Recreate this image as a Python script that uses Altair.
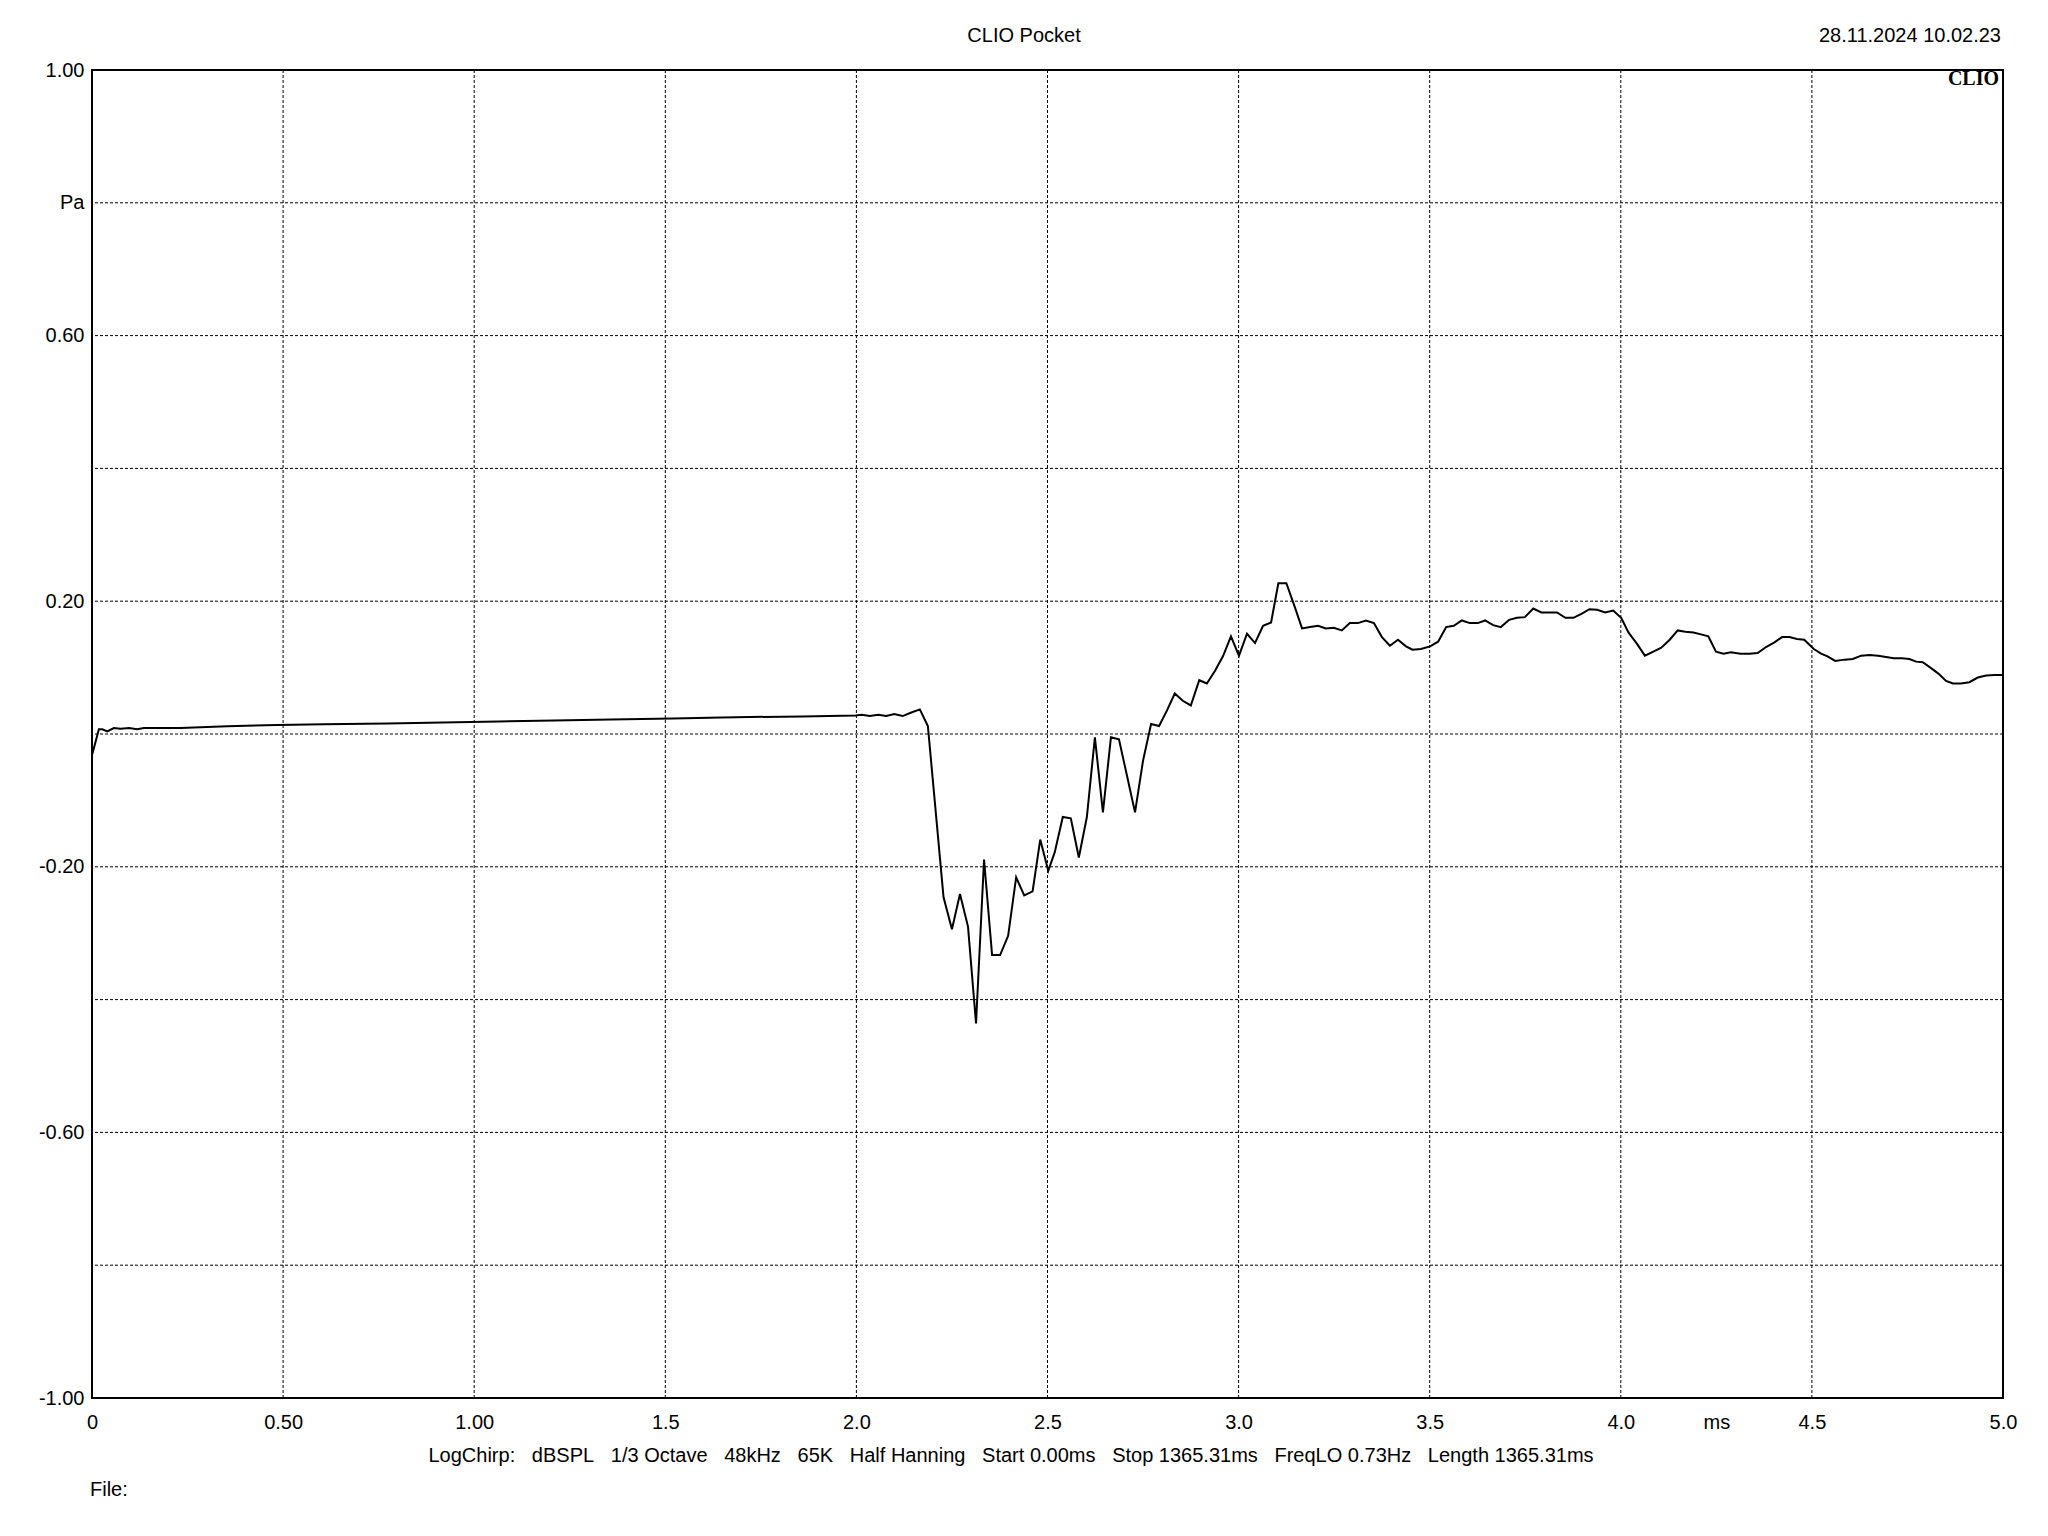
import altair as alt
import pandas as pd

# ---- data (time in ms, pressure in Pa) ----
time_ms = [
    0.000, 0.018, 0.027, 0.040, 0.057, 0.075, 0.097, 0.118, 0.136, 0.232, 0.354, 0.485,
    0.606, 0.773, 0.918, 1.064, 1.210, 1.357, 1.520, 1.647, 1.857, 1.998,
    2.014, 2.035, 2.057, 2.078, 2.099, 2.121, 2.142, 2.166, 2.187, 2.208, 2.228, 2.250,
    2.271, 2.292, 2.313, 2.334, 2.355, 2.376, 2.397, 2.418, 2.439, 2.461, 2.481, 2.502,
    2.519, 2.540, 2.561, 2.582, 2.603, 2.624, 2.645, 2.666, 2.687, 2.708, 2.729, 2.750,
    2.771, 2.792, 2.813, 2.833, 2.854, 2.875, 2.897, 2.917, 2.938, 2.959, 2.980, 3.001,
    3.022, 3.043, 3.064, 3.085, 3.104, 3.125, 3.146, 3.166, 3.187, 3.208, 3.228, 3.249,
    3.270, 3.291, 3.312, 3.333, 3.354, 3.375, 3.396, 3.417, 3.438, 3.455, 3.477, 3.501,
    3.522, 3.543, 3.563, 3.584, 3.605, 3.626, 3.645, 3.666, 3.686, 3.708, 3.728, 3.749,
    3.771, 3.792, 3.813, 3.833, 3.855, 3.876, 3.897, 3.918, 3.938, 3.959, 3.980, 4.001,
    4.020, 4.042, 4.063, 4.085, 4.106, 4.128, 4.149, 4.169, 4.190, 4.210, 4.229, 4.249,
    4.269, 4.288, 4.313, 4.336, 4.358, 4.380, 4.402, 4.422, 4.441, 4.461, 4.480, 4.505,
    4.524, 4.541, 4.561, 4.585, 4.607, 4.629, 4.651, 4.673, 4.694, 4.714, 4.735, 4.755,
    4.773, 4.790, 4.810, 4.831, 4.851, 4.869, 4.890, 4.912, 4.934, 4.956, 4.978, 5.000,
]
pressure_pa = [
    -0.032, 0.007, 0.007, 0.004, 0.009, 0.008, 0.009, 0.007, 0.009, 0.009, 0.0116, 0.0137,
    0.0145, 0.016, 0.0175, 0.019, 0.0205, 0.022, 0.0235, 0.025, 0.0265, 0.028,
    0.029, 0.027, 0.029, 0.027, 0.030, 0.027, 0.032, 0.037, 0.012, -0.120, -0.246, -0.294,
    -0.241, -0.290, -0.436, -0.189, -0.333, -0.333, -0.304, -0.216, -0.243, -0.237, -0.159, -0.206,
    -0.178, -0.125, -0.127, -0.186, -0.125, -0.005, -0.118, -0.005, -0.008, -0.063, -0.118, -0.040,
    0.015, 0.012, 0.036, 0.061, 0.050, 0.043, 0.081, 0.076, 0.095, 0.117, 0.147, 0.118,
    0.151, 0.137, 0.163, 0.168, 0.227, 0.227, 0.193, 0.159, 0.161, 0.163, 0.159, 0.160,
    0.156, 0.167, 0.167, 0.171, 0.167, 0.146, 0.133, 0.142, 0.132, 0.127, 0.128, 0.132,
    0.139, 0.161, 0.163, 0.171, 0.167, 0.167, 0.171, 0.164, 0.161, 0.172, 0.175, 0.176,
    0.189, 0.183, 0.183, 0.183, 0.175, 0.175, 0.181, 0.188, 0.187, 0.183, 0.186, 0.175,
    0.153, 0.136, 0.118, 0.124, 0.130, 0.142, 0.156, 0.154, 0.153, 0.150, 0.147, 0.124,
    0.121, 0.123, 0.121, 0.121, 0.122, 0.131, 0.138, 0.146, 0.146, 0.143, 0.142, 0.128,
    0.121, 0.117, 0.110, 0.112, 0.113, 0.118, 0.119, 0.118, 0.116, 0.114, 0.114, 0.113,
    0.109, 0.108, 0.100, 0.091, 0.080, 0.076, 0.076, 0.078, 0.085, 0.088, 0.089, 0.089,
]

x_tick_values = [0, 0.5, 1.0, 1.5, 2.0, 2.5, 3.0, 3.5, 4.0, 4.25, 4.5, 5.0]
x_tick_labels = ["0", "0.50", "1.00", "1.5", "2.0", "2.5", "3.0", "3.5", "4.0", "ms", "4.5", "5.0"]
y_tick_values = [1.0, 0.8, 0.6, 0.2, -0.2, -0.6, -1.0]
y_tick_labels = ["1.00", "Pa", "0.60", "0.20", "-0.20", "-0.60", "-1.00"]
x_grid = [0.5, 1.0, 1.5, 2.0, 2.5, 3.0, 3.5, 4.0, 4.5]
y_grid = [0.8, 0.6, 0.4, 0.2, 0.0, -0.2, -0.4, -0.6, -0.8]

title_text = "CLIO Pocket"
date_text = "28.11.2024 10.02.23"
logo_text = "CLIO"
sep = "\u00a0\u00a0\u00a0"
params_items = ["LogChirp:", "dBSPL", "1/3 Octave", "48kHz", "65K", "Half Hanning",
                "Start 0.00ms", "Stop 1365.31ms", "FreqLO 0.73Hz", "Length 1365.31ms"]
params_text = sep.join(params_items)
file_text = "File:"

FONT = "Liberation Sans"
W, H = 1911, 1328


def label_expr(vals, labs):
    parts = [f"abs(datum.value - ({v})) < 1e-6 ? '{l}'" for v, l in zip(vals, labs)]
    return " : ".join(parts) + " : ''"


x_scale = alt.Scale(domain=[0, 5], nice=False, zero=False)
y_scale = alt.Scale(domain=[-1, 1], nice=False, zero=False)

x_axis = alt.Axis(values=x_tick_values, labelExpr=label_expr(x_tick_values, x_tick_labels),
                  grid=False, ticks=False, tickSize=0, domain=False,
                  labelFont=FONT, labelFontSize=20, labelColor="#000000",
                  labelPadding=14, labelFlush=False, labelOverlap=False, labelBound=False)
y_axis = alt.Axis(values=y_tick_values, labelExpr=label_expr(y_tick_values, y_tick_labels),
                  grid=False, ticks=False, tickSize=0, domain=False,
                  labelFont=FONT, labelFontSize=20, labelColor="#000000",
                  labelPadding=8, labelFlush=False, labelOverlap=False, labelBound=False)

df = pd.DataFrame({"t": time_ms, "p": pressure_pa})

grid_x = alt.Chart(pd.DataFrame({"t": x_grid})).mark_rule(
    color="#000000", strokeWidth=1, strokeDash=[3, 2]
).encode(x=alt.X("t:Q", scale=x_scale, axis=x_axis, title=None))

grid_y = alt.Chart(pd.DataFrame({"p": y_grid})).mark_rule(
    color="#000000", strokeWidth=1, strokeDash=[3, 2]
).encode(y=alt.Y("p:Q", scale=y_scale, axis=y_axis, title=None))

line = alt.Chart(df).mark_line(color="#000000", strokeWidth=2, interpolate="linear").encode(
    x=alt.X("t:Q", scale=x_scale, axis=x_axis, title=None),
    y=alt.Y("p:Q", scale=y_scale, axis=y_axis, title=None),
)


def text_layer(s, px, py, align="center", font=FONT, weight="normal"):
    return alt.Chart(pd.DataFrame({"s": [s]})).mark_text(
        align=align, baseline="alphabetic", font=font, fontSize=20,
        fontWeight=weight, color="#000000"
    ).encode(text="s:N", x=alt.value(px), y=alt.value(py))


title_layer = text_layer(title_text, 932, -28)
params_layer = text_layer(params_text, 919, 1392)
date_layer = text_layer(date_text, 1909, -28, align="right")
logo_layer = text_layer(logo_text, 1907, 15, align="right", font="Liberation Serif", weight="bold")
file_layer = text_layer(file_text, -2, 1426, align="left")

chart = alt.layer(
    grid_x, grid_y, line, title_layer, params_layer, date_layer, logo_layer, file_layer
).properties(
    width=W, height=H,
    autosize=alt.AutoSizeParams(type="none"),
    padding={"left": 84, "top": 62, "right": 30, "bottom": 130},
    background="#ffffff",
).configure_view(stroke="#000000", strokeWidth=2)

chart.save("out.html", embed_options={"renderer": "svg", "actions": False})
